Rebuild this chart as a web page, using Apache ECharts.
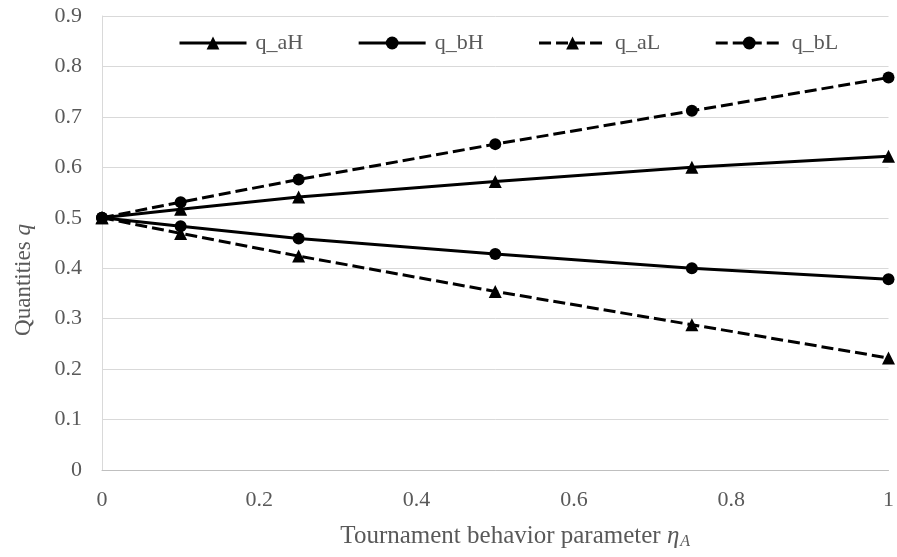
<!DOCTYPE html>
<html><head><meta charset="utf-8">
<script src="https://cdn.jsdelivr.net/npm/echarts@6/dist/echarts.min.js"></script>
<style>html,body{margin:0;padding:0;background:#fff}#c{width:897px;height:557px}</style>
</head><body><div id="c"></div>
<script>
const xVals = [0, 0.1, 0.25, 0.5, 0.75, 1];
const q_aH = [0.5, 0.517, 0.541, 0.572, 0.600, 0.622];
const q_bH = [0.5, 0.483, 0.459, 0.428, 0.400, 0.378];
const q_aL = [0.5, 0.469, 0.424, 0.354, 0.288, 0.222];
const q_bL = [0.5, 0.531, 0.576, 0.646, 0.712, 0.778];
const names = ['q_aH', 'q_bH', 'q_aL', 'q_bL'];

const font = '"Liberation Serif", "Times New Roman", serif';
const txt = '#595959';
const pair = arr => xVals.map((x, i) => [x, arr[i]]);
function mk(name, data, symbol, dashed) {
  return {
    name, type: 'line', data: pair(data), symbol,
    symbolSize: symbol === 'triangle' ? 13 : 12,
    lineStyle: { color: '#000', width: 3, type: dashed ? [12, 5] : 'solid' },
    itemStyle: { color: '#000' },
    z: dashed ? 3 : 4
  };
}
const chart = echarts.init(document.getElementById('c'));
chart.setOption({
  animation: false,
  grid: { left: 102, right: 3, top: 16, bottom: 87 },
  legend: {
    top: 27, left: 173, itemGap: 54, itemWidth: 67, itemHeight: 16,
    lineStyle: { width: 3 },
    textStyle: { fontFamily: font, fontSize: 22, color: txt, padding: [0, 0, 0, 4] },
    data: names
  },
  xAxis: {
    type: 'value', min: 0, max: 1, interval: 0.2,
    axisLine: { show: true, lineStyle: { color: '#bfbfbf', width: 1 } },
    axisTick: { show: false },
    splitLine: { show: false },
    axisLabel: { fontFamily: font, fontSize: 22, color: txt, margin: 19,
      formatter: v => String(+v.toFixed(1)) },
    name: '{n|Tournament behavior parameter }{i|η}{s|A}',
    nameLocation: 'middle', nameGap: 52,
    nameTextStyle: { padding: [0, 0, 0, 40], rich: {
      n: { fontFamily: font, fontSize: 25, color: txt },
      i: { fontFamily: font, fontSize: 25, color: txt, fontStyle: 'italic' },
      s: { fontFamily: font, fontSize: 16, color: txt, fontStyle: 'italic', verticalAlign: 'bottom', padding: [12, 0, 0, 1] }
    } }
  },
  yAxis: {
    type: 'value', min: 0, max: 0.9, interval: 0.1,
    axisLine: { show: true, lineStyle: { color: '#d9d9d9', width: 1 } },
    axisTick: { show: false },
    splitLine: { show: true, lineStyle: { color: '#d9d9d9', width: 1 } },
    axisLabel: { fontFamily: font, fontSize: 22, color: txt, margin: 20,
      formatter: v => String(+v.toFixed(1)) },
    name: '{n|Quantities }{i|q}',
    nameLocation: 'middle', nameGap: 67, nameRotate: 90,
    nameTextStyle: { padding: [0, 74, 0, 0], rich: {
      n: { fontFamily: font, fontSize: 23, color: txt },
      i: { fontFamily: font, fontSize: 23, color: txt, fontStyle: 'italic' }
    } }
  },
  series: [
    mk('q_aH', q_aH, 'triangle', false),
    mk('q_bH', q_bH, 'circle', false),
    mk('q_aL', q_aL, 'triangle', true),
    mk('q_bL', q_bL, 'circle', true)
  ]
});
</script></body></html>
